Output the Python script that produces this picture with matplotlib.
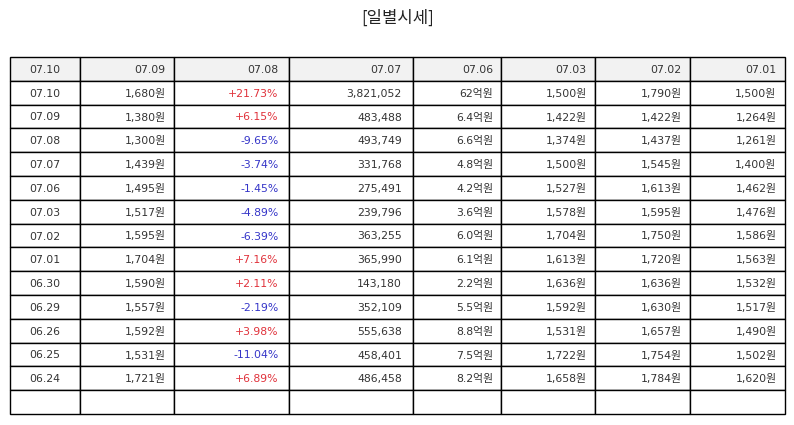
import matplotlib.pyplot as plt

plt.rcParams['font.family'] = ['DejaVu Sans', 'Noto Sans CJK KR']

# header row (as shown in the reference)
header = ['07.10', '07.09', '07.08', '07.07', '07.06', '07.03', '07.02', '07.01']

dates = ['07.10', '07.09', '07.08', '07.07', '07.06', '07.03', '07.02',
         '07.01', '06.30', '06.29', '06.26', '06.25', '06.24']
close = [1680, 1380, 1300, 1439, 1495, 1517, 1595, 1704, 1590, 1557, 1592, 1531, 1721]
change = [21.73, 6.15, -9.65, -3.74, -1.45, -4.89, -6.39, 7.16, 2.11, -2.19, 3.98, -11.04, 6.89]
volume = [3821052, 483488, 493749, 331768, 275491, 239796, 363255, 365990,
          143180, 352109, 555638, 458401, 486458]
amount = ['62억원', '6.4억원', '6.6억원', '4.8억원', '4.2억원', '3.6억원', '6.0억원',
          '6.1억원', '2.2억원', '5.5억원', '8.8억원', '7.5억원', '8.2억원']
open_p = [1500, 1422, 1374, 1500, 1527, 1578, 1704, 1613, 1636, 1592, 1531, 1722, 1658]
high = [1790, 1422, 1437, 1545, 1613, 1595, 1750, 1720, 1636, 1630, 1657, 1754, 1784]
low = [1500, 1264, 1261, 1400, 1462, 1476, 1586, 1563, 1532, 1517, 1490, 1502, 1620]

col_px = [70, 94, 115, 124, 88, 94, 95, 95]

rows = []
for i in range(len(dates)):
    rows.append([dates[i], f"{close[i]:,}원", f"{change[i]:+.2f}%", f"{volume[i]:,}",
                 amount[i], f"{open_p[i]:,}원", f"{high[i]:,}원", f"{low[i]:,}원"])
rows.append([''] * len(header))

fig = plt.figure(figsize=(7.94, 4.25), dpi=100)
fig.text(398 / 794, 1 - 18 / 425, '[일별시세]', ha='center', va='center',
         fontsize=12, color='#222222', family=['Noto Sans CJK KR', 'DejaVu Sans'])

ax = fig.add_axes([10 / 794, 11 / 425, 775 / 794, 357 / 425])
ax.axis('off')

tot = sum(col_px)
tbl = ax.table(cellText=rows, colLabels=header, bbox=[0, 0, 1, 1],
               colWidths=[w / tot for w in col_px], cellLoc='right', colLoc='right')
tbl.auto_set_font_size(False)
tbl.set_fontsize(7.8)

for (r, c), cell in tbl.get_celld().items():
    cell.set_edgecolor('black')
    cell.set_linewidth(1.0)
    cell.PAD = 0.09
    txt = cell.get_text()
    txt.set_color('#333333')
    txt.set_verticalalignment('center_baseline')
    if c == 0:
        txt.set_horizontalalignment('center')
    if r == 0:
        cell.set_facecolor('#f2f2f2')
    elif c == 2 and r - 1 < len(change):
        txt.set_color('#e0313a' if change[r - 1] > 0 else '#3535c8')

plt.savefig('out.png', dpi=100)
